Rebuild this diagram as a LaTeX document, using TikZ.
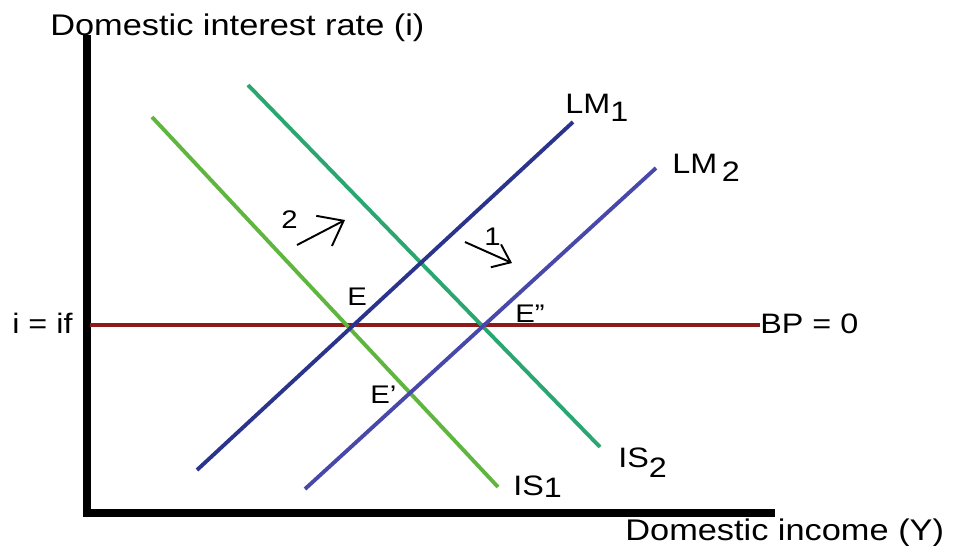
\documentclass[tikz,border=0pt]{standalone}
\usepackage{fontspec}
\setmainfont{Liberation Sans}[FakeStretch=1.15]
\usetikzlibrary{arrows.meta}
\definecolor{isone}{RGB}{95,182,62}
\definecolor{istwo}{RGB}{42,166,112}
\definecolor{lmone}{RGB}{42,52,140}
\definecolor{lmtwo}{RGB}{72,72,170}
\definecolor{bpred}{RGB}{140,28,28}

\begin{document}
\begin{tikzpicture}[
  x=0.02cm, y=-0.02cm,
  axis/.style={line width=4.2pt},
  curve/.style={line width=2.2pt},
  lbl/.style={font=\fontsize{16}{19}\selectfont, inner sep=0pt, anchor=base west},
  eqlbl/.style={font=\fontsize{14.5}{17}\selectfont, inner sep=0pt, anchor=base west},
  shiftarrow/.style={line width=1.1pt}
]
  \useasboundingbox (0,0) rectangle (954,545);
  % axes
  \coordinate (top) at (87,35);
  \coordinate (origin) at (87,513);
  \coordinate (right) at (775,513);
  \draw[axis] (top) -- (origin) -- (right);
  \node[lbl, font=\fontsize{17}{20}\selectfont] (ylabel) at (50,35) {Domestic interest rate (i)};
  \node[lbl, font=\fontsize{17}{20}\selectfont] (xlabel) at (625,540) {Domestic income (Y)};

  % BP curve
  \coordinate (bpA) at (90,325);
  \coordinate (bpB) at (760,325);
  \draw[curve, bpred] (bpA) -- (bpB);
  \node[lbl] (ifl) at (12,333) {i = if};
  \node[lbl] (bpl) at (760,333) {BP = 0};

  % IS curves
  \coordinate (is1A) at (152,117);
  \coordinate (is1B) at (498,487);
  \coordinate (is2A) at (248,85);
  \coordinate (is2B) at (600,447);
  \draw[curve, isone] (is1A) -- (is1B);
  \draw[curve, istwo] (is2A) -- (is2B);
  \node[lbl] (is1l) at (513,495) {IS\raisebox{-0.15ex}{1}};
  \node[lbl] (is2l) at (618,467) {IS\raisebox{-0.7ex}{2}};

  % LM curves
  \coordinate (lm1A) at (197,470);
  \coordinate (lm1B) at (573,122);
  \coordinate (lm2A) at (305,489);
  \coordinate (lm2B) at (656,168);
  \draw[curve, lmone] (lm1A) -- (lm1B);
  \draw[curve, lmtwo] (lm2A) -- (lm2B);
  \node[lbl] (lm1l) at (565,113) {LM\raisebox{-0.6ex}{1}};
  \node[lbl] (lm2l) at (672,173) {LM\,\raisebox{-0.6ex}{2}};

  % equilibrium points
  \node[eqlbl] (E) at (347,305) {E};
  \node[eqlbl] (E2) at (515,322) {E\symbol{34}};
  \node[eqlbl] (E1) at (370,403) {E\symbol{39}};

  % shifts
  \coordinate (s2A) at (297,245);
  \coordinate (s2B) at (345,220);
  \draw[shiftarrow, -{Straight Barb[length=4.4mm, width=6.8mm]}] (s2A) -- (s2B);
  \node[eqlbl] (n2) at (281,228) {2};
  \coordinate (s1A) at (465,242);
  \coordinate (s1B) at (512,263);
  \draw[shiftarrow, -{Straight Barb[length=3.2mm, width=5mm]}] (s1A) -- (s1B);
  \node[eqlbl] (n1) at (484,245) {1};
\end{tikzpicture}
\end{document}
